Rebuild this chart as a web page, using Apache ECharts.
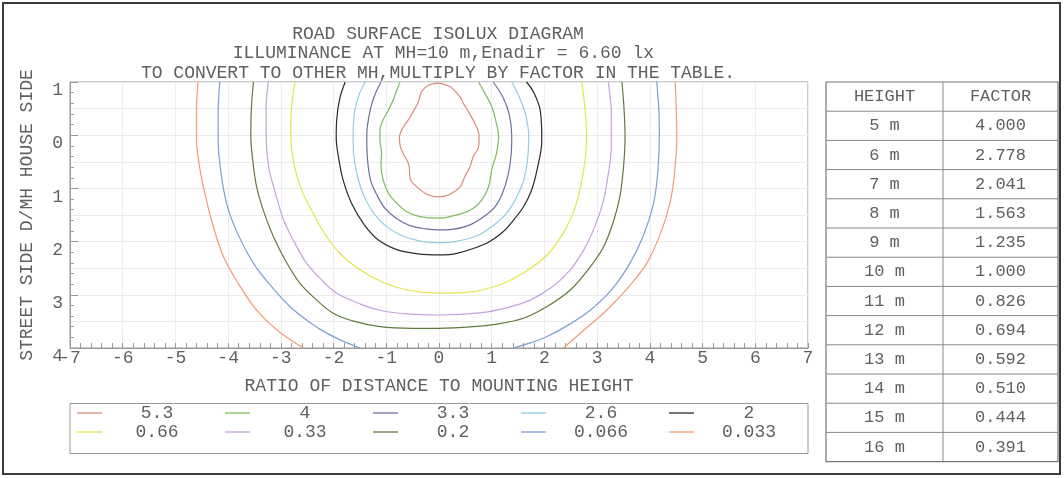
<!DOCTYPE html>
<html>
<head>
<meta charset="utf-8">
<script src="https://cdn.jsdelivr.net/npm/echarts@6/dist/echarts.min.js"></script>
<style>
html,body{margin:0;padding:0;background:#fff;}
#chart{width:1064px;height:478px;}
</style>
</head>
<body>
<div id="chart"></div>
<script>
// ---------- DATA ----------
var titleLines = [
  'ROAD SURFACE ISOLUX DIAGRAM',
  ' ILLUMINANCE AT MH=10 m,Enadir = 6.60 lx',
  'TO CONVERT TO OTHER MH,MULTIPLY BY FACTOR IN THE TABLE.'
];
var xAxisTitle = 'RATIO OF DISTANCE TO MOUNTING HEIGHT';
var yAxisTitle = 'STREET SIDE D/MH HOUSE SIDE';

var levelNames = ['5.3', '4', '3.3', '2.6', '2', '0.66', '0.33', '0.2', '0.066', '0.033'];

// contour paths [ratio x, D/MH y (negative = house side)]
var c53 = [[0,-0.98],[-0.2,-0.94],[-0.33,-0.82],[-0.39,-0.63],[-0.49,-0.44],[-0.58,-0.29],[-0.69,-0.13],[-0.75,0.03],[-0.74,0.18],[-0.68,0.34],[-0.58,0.53],[-0.56,0.65],[-0.54,0.84],[-0.42,0.97],[-0.23,1.11],[0,1.16],[0.21,1.11],[0.4,0.97],[0.49,0.78],[0.59,0.59],[0.65,0.4],[0.75,0.22],[0.76,0.0],[0.68,-0.22],[0.56,-0.44],[0.46,-0.6],[0.4,-0.72],[0.21,-0.91],[0,-0.98]];
var c4 = [[-0.74,-1],[-0.8,-0.85],[-0.87,-0.66],[-0.96,-0.47],[-1.06,-0.29],[-1.12,-0.1],[-1.12,0.09],[-1.09,0.34],[-1.1,0.59],[-1.06,0.84],[-0.96,1.09],[-0.8,1.28],[-0.61,1.44],[-0.36,1.53],[0,1.56],[0.21,1.53],[0.59,1.41],[0.81,1.22],[0.94,0.97],[1.0,0.65],[1.09,0.34],[1.13,0.03],[1.09,-0.22],[1.0,-0.54],[0.87,-0.79],[0.75,-1]];
var c33 = [[-1.1,-1],[-1.22,-0.75],[-1.31,-0.45],[-1.37,0.0],[-1.36,0.4],[-1.3,0.84],[-1.18,1.12],[-1.02,1.38],[-0.8,1.57],[-0.55,1.7],[-0.25,1.76],[0,1.78],[0.25,1.77],[0.55,1.7],[0.82,1.55],[1.05,1.36],[1.2,1.1],[1.31,0.75],[1.37,0.35],[1.38,0.0],[1.33,-0.4],[1.22,-0.7],[1.03,-1]];
var c26 = [[-1.4,-1],[-1.52,-0.75],[-1.6,-0.45],[-1.63,0.0],[-1.62,0.35],[-1.54,0.8],[-1.42,1.15],[-1.25,1.45],[-1.02,1.7],[-0.72,1.88],[-0.36,1.99],[0,2.02],[0.3,2.0],[0.7,1.9],[1.0,1.72],[1.28,1.47],[1.48,1.15],[1.62,0.8],[1.69,0.35],[1.7,0.0],[1.64,-0.4],[1.53,-0.7],[1.38,-1]];
var c2 = [[-1.78,-1],[-1.88,-0.7],[-1.94,-0.3],[-1.95,0.05],[-1.9,0.45],[-1.82,0.84],[-1.65,1.3],[-1.42,1.68],[-1.15,1.97],[-0.8,2.15],[-0.4,2.23],[0,2.25],[0.34,2.22],[0.9,2.03],[1.2,1.83],[1.41,1.6],[1.6,1.35],[1.75,1.05],[1.86,0.65],[1.95,0.1],[1.92,-0.47],[1.8,-0.8],[1.66,-1]];
var c066 = [[-2.73,-1],[-2.8,-0.5],[-2.81,0.0],[-2.76,0.5],[-2.62,1.0],[-2.45,1.35],[-2.2,1.8],[-1.9,2.2],[-1.5,2.53],[-1.1,2.75],[-0.6,2.91],[0,2.97],[0.65,2.94],[1.1,2.83],[1.41,2.7],[1.8,2.46],[2.1,2.2],[2.35,1.85],[2.55,1.45],[2.69,0.95],[2.78,0.4],[2.8,0.0],[2.77,-0.5],[2.71,-1]];
var c033 = [[-3.24,-1],[-3.28,-0.5],[-3.28,0.0],[-3.23,0.6],[-3.1,1.1],[-2.95,1.59],[-2.75,2.0],[-2.51,2.41],[-2.2,2.75],[-1.94,2.97],[-1.5,3.17],[-1.12,3.29],[-0.6,3.36],[0,3.38],[0.78,3.34],[1.3,3.24],[1.73,3.1],[2.15,2.85],[2.49,2.53],[2.75,2.15],[2.93,1.78],[3.1,1.3],[3.2,0.8],[3.27,0.2],[3.27,-0.4],[3.21,-1]];
var c02 = [[-3.52,-1],[-3.56,-0.5],[-3.57,0.03],[-3.53,0.5],[-3.46,0.97],[-3.32,1.45],[-3.14,1.91],[-2.9,2.38],[-2.64,2.78],[-2.32,3.1],[-2.0,3.35],[-1.6,3.5],[-1.12,3.6],[-0.5,3.63],[0,3.63],[0.65,3.6],[1.1,3.55],[1.6,3.44],[2.05,3.22],[2.49,2.91],[2.85,2.5],[3.12,2.1],[3.3,1.65],[3.43,1.16],[3.5,0.6],[3.53,0.03],[3.51,-0.5],[3.47,-1]];
var c0066L = [[-4.16,-1],[-4.19,-0.4],[-4.19,0.03],[-4.15,0.6],[-4.03,1.28],[-3.82,1.85],[-3.52,2.41],[-3.2,2.82],[-2.83,3.22],[-2.45,3.52],[-2.13,3.72],[-1.8,3.88],[-1.5,4.0]];
var c0066R = [[1.41,4.0],[1.75,3.9],[2.04,3.79],[2.45,3.57],[2.87,3.29],[3.28,2.9],[3.62,2.41],[3.88,1.88],[4.07,1.28],[4.15,0.7],[4.18,0.03],[4.17,-0.5],[4.13,-1]];
var c0033L = [[-4.57,-1],[-4.6,-0.5],[-4.6,0.1],[-4.55,0.55],[-4.47,0.97],[-4.3,1.65],[-4.09,2.28],[-3.8,2.8],[-3.46,3.29],[-3.05,3.68],[-2.57,4.0]];
var c0033R = [[2.36,4.0],[2.8,3.62],[3.18,3.29],[3.6,2.85],[3.94,2.41],[4.2,1.85],[4.38,1.28],[4.47,0.7],[4.51,0.03],[4.5,-0.5],[4.48,-1]];

var tableHeader = ['HEIGHT', 'FACTOR'];
var tableHeights = ['5 m','6 m','7 m','8 m','9 m','10 m','11 m','12 m','13 m','14 m','15 m','16 m'];
var tableFactors = ['4.000','2.778','2.041','1.563','1.235','1.000','0.826','0.694','0.592','0.510','0.444','0.391'];

// ---------- STYLE ----------
var FONT = '"Liberation Mono", "DejaVu Sans Mono", monospace';
var TXT = '#606060';
var levelColors = {
  '5.3': '#d98c7c', '4': '#7dbb5c', '3.3': '#6f6f9e', '2.6': '#8fcfe0', '2': '#2b2b2b',
  '0.66': '#e4e44c', '0.33': '#c6a2d8', '0.2': '#5e7b3c', '0.066': '#7d9fd3', '0.033': '#f09c72'
};
var paths = [
  ['5.3', c53], ['4', c4], ['3.3', c33], ['2.6', c26], ['2', c2],
  ['0.66', c066], ['0.33', c033], ['0.2', c02],
  ['0.066', c0066L], ['0.066', c0066R], ['0.033', c0033L], ['0.033', c0033R]
];

var series = paths.map(function (p) {
  return {
    name: p[0], type: 'line', data: p[1], smooth: 0.35, showSymbol: false, symbol: 'none',
    clip: true, silent: true, animation: false,
    lineStyle: { color: levelColors[p[0]], width: 1.2 },
    itemStyle: { color: levelColors[p[0]] }
  };
});

var G = { left: 70, right: 256, top: 82, bottom: 130 };

// table + frames
var tX0 = 826, tX1 = 943, tX2 = 1058, tY0 = 82, rowH = 29.2;
var nRows = tableHeights.length + 1;
var graphics = [];
graphics.push({ type: 'rect', shape: { x: 3, y: 3, width: 1057, height: 471 }, style: { fill: null, stroke: '#3a3a3a', lineWidth: 2 }, silent: true });
graphics.push({ type: 'rect', shape: { x: 70, y: 403.5, width: 738, height: 50 }, style: { fill: null, stroke: '#999', lineWidth: 1 }, silent: true });
graphics.push({ type: 'rect', shape: { x: tX0, y: tY0, width: tX2 - tX0, height: rowH * nRows }, style: { fill: null, stroke: '#777', lineWidth: 1.2 }, silent: true });
graphics.push({ type: 'line', shape: { x1: tX1, y1: tY0, x2: tX1, y2: tY0 + rowH * nRows }, style: { stroke: '#888', lineWidth: 1 }, silent: true });
for (var r = 1; r < nRows; r++) {
  graphics.push({ type: 'line', shape: { x1: tX0, y1: tY0 + rowH * r, x2: tX2, y2: tY0 + rowH * r }, style: { stroke: '#888', lineWidth: 1 }, silent: true });
}
for (var r2 = 0; r2 < nRows; r2++) {
  var a = r2 === 0 ? tableHeader[0] : tableHeights[r2 - 1];
  var b = r2 === 0 ? tableHeader[1] : tableFactors[r2 - 1];
  var cy = tY0 + rowH * r2 + rowH / 2;
  graphics.push({ type: 'text', x: (tX0 + tX1) / 2, y: cy, style: { text: a, fill: TXT, font: '17px ' + FONT, textAlign: 'center', textVerticalAlign: 'middle' }, silent: true });
  graphics.push({ type: 'text', x: (tX1 + tX2) / 2, y: cy, style: { text: b, fill: TXT, font: '17px ' + FONT, textAlign: 'center', textVerticalAlign: 'middle' }, silent: true });
}

function legendCfg(names, top) {
  return {
    data: names, left: 77, top: top, orient: 'horizontal', padding: 0,
    icon: 'rect', itemWidth: 25, itemHeight: 1.3, itemGap: 18, selectedMode: false,
    formatter: function (n) { return '{a|' + n + '}'; },
    textStyle: {
      color: TXT, fontFamily: FONT, fontSize: 18,
      rich: { a: { width: 100, align: 'center', color: TXT, fontFamily: FONT, fontSize: 18, lineHeight: 18 } }
    }
  };
}

var chart = echarts.init(document.getElementById('chart'), null, { renderer: 'canvas' });
chart.setOption({
  backgroundColor: '#fff',
  animation: false,
  title: {
    text: titleLines.join('\n'), left: 438, top: 24, textAlign: 'center', padding: 0,
    textStyle: { color: TXT, fontFamily: FONT, fontSize: 18, fontWeight: 'normal', lineHeight: 19.5 }
  },
  legend: [legendCfg(levelNames.slice(0, 5), 404), legendCfg(levelNames.slice(5), 423)],
  grid: { left: G.left, right: G.right, top: G.top, bottom: G.bottom, show: true, borderColor: '#999', borderWidth: 1, containLabel: false },
  xAxis: {
    type: 'value', min: -7, max: 7, interval: 1,
    name: xAxisTitle, nameLocation: 'middle', nameGap: 29,
    nameTextStyle: { color: TXT, fontFamily: FONT, fontSize: 18 },
    axisLine: { show: true, onZero: false, lineStyle: { color: '#999' } },
    axisTick: { show: true, inside: true, length: 5, lineStyle: { color: '#999' } },
    minorTick: { show: true, splitNumber: 5, length: 5, lineStyle: { color: '#999' } },
    splitLine: { show: true, lineStyle: { color: '#ececec', width: 1 } },
    axisLabel: { color: TXT, fontFamily: FONT, fontSize: 18, margin: 1, formatter: function (v) { return String(v); } }
  },
  yAxis: [{
    type: 'value', min: -1, max: 4, interval: 1, inverse: true,
    name: yAxisTitle, nameLocation: 'middle', nameGap: 34, nameRotate: 90,
    nameTextStyle: { color: TXT, fontFamily: FONT, fontSize: 18 },
    axisLine: { show: true, onZero: false, lineStyle: { color: '#999' } },
    axisTick: { show: true, inside: true, length: 8, lineStyle: { color: '#999' } },
    minorTick: { show: true, splitNumber: 5, length: 4, lineStyle: { color: '#999' } },
    splitLine: { show: false },
    axisLabel: { color: TXT, fontFamily: FONT, fontSize: 18, margin: 7, verticalAlign: 'top', lineHeight: 17, formatter: function (v) { return String(Math.abs(v)); } }
  }, {
    type: 'value', min: -1, max: 4, interval: 0.5, inverse: true, position: 'left',
    axisLine: { show: false, onZero: false }, axisTick: { show: false }, axisLabel: { show: false },
    splitLine: { show: true, lineStyle: { color: '#ececec', width: 1 } }
  }],
  graphic: graphics,
  series: series
});
</script>
</body>
</html>
